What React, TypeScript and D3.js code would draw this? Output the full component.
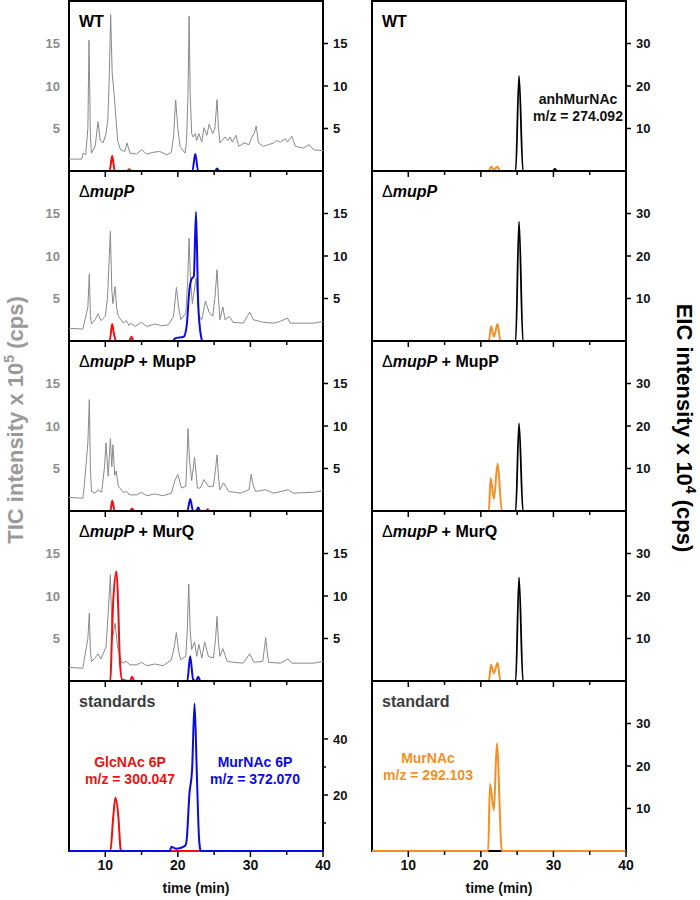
import React from "react";
import * as d3 from "d3";

type Pt = [number, number];

// time (min), intensity -- TIC traces (x 10^5 cps)
const ticWT: Pt[] = [[5,1.4],[6.75,1.4],[6.95,2.1],[7.3,1.9],[7.6,5],[7.76,15.4],[7.95,4],[8.1,2.1],[8.6,2.9],[9.0,5.8],[9.3,3.6],[9.7,3.3],[10.1,4.4],[10.35,6],[10.55,11],[10.74,18.4],[10.95,11.5],[11.2,9.2],[11.4,7],[11.7,3.6],[12.1,2.5],[12.7,2.3],[13.0,3.3],[13.4,2.1],[14.3,2.0],[15.0,2.5],[15.7,2.0],[16.6,2.2],[17.5,2.3],[18.5,1.9],[19.1,2.2],[19.4,4],[19.7,8.35],[20.0,5],[20.3,2.9],[21.0,2.1],[21.2,3.6],[21.4,9],[21.55,18.2],[21.7,9],[21.9,4.4],[22.1,4.0],[22.4,4.4],[22.6,3.6],[22.9,4.4],[23.3,3.4],[23.6,5.1],[24.0,4.2],[24.3,5.5],[24.8,4.4],[25.1,5],[25.4,8.4],[25.6,5],[25.8,3.3],[26.5,4.0],[26.9,3.6],[27.2,4.0],[27.5,3.4],[28.0,4.2],[28.4,2.9],[29.1,3.3],[29.8,3.1],[30.2,4.0],[30.5,4.4],[30.8,5.3],[31.1,3.3],[31.8,2.9],[32.5,3.1],[33.2,3.3],[33.6,3.6],[34.1,3.4],[34.8,3.8],[35.1,3.4],[35.7,4.1],[36.2,2.9],[37.3,2.7],[38.1,3.1],[38.7,2.5],[40,2.4]];
const ticMupP: Pt[] = [[5,1.5],[6.9,1.4],[7.1,2.1],[7.6,4],[7.8,7.9],[7.95,3],[8.1,2.0],[8.6,2.5],[9.0,3.2],[9.4,2.4],[10.0,2.9],[10.3,5],[10.5,9],[10.7,12.9],[10.9,6],[11.05,4.4],[11.35,6.4],[11.55,4],[11.8,2.9],[12.5,2.1],[12.9,2.4],[13.3,1.8],[13.5,2.1],[14.1,1.7],[15.0,2.2],[15.7,1.7],[16.8,2.0],[17.8,1.8],[18.7,1.9],[19.4,2.9],[19.8,6.3],[20.1,4],[20.4,2.5],[21.1,3.3],[21.35,7],[21.55,12.1],[21.75,7],[22.0,4.4],[22.5,7.4],[22.9,3],[23.3,2.5],[23.8,4.7],[24.3,3.4],[24.8,2.9],[25.1,5],[25.4,8.4],[25.6,5],[25.8,2.5],[26.2,4.0],[26.5,2.5],[27.1,2.9],[27.6,2.2],[29.0,2.1],[29.9,3.4],[30.4,2.5],[31.8,2.2],[33.2,2.1],[34.1,2.3],[35.1,2.7],[35.5,2.1],[38.7,2.1],[40,2.3]];
const ticMupPComp: Pt[] = [[5,1.6],[6.9,1.5],[7.1,2.9],[7.6,8],[7.8,13.1],[7.95,5],[8.1,2.3],[8.6,2.1],[9.0,2.5],[9.5,2.2],[9.9,5.2],[10.1,8.0],[10.4,4.1],[10.7,8.5],[10.9,5.2],[11.05,7.8],[11.3,4.2],[11.5,4.7],[11.8,2.9],[12.5,2.2],[12.9,2.3],[13.4,1.9],[14.3,1.9],[15.0,2.2],[15.7,1.8],[16.8,2.0],[18.0,1.8],[19.1,2.1],[19.6,3.6],[20.0,4.3],[20.5,2.7],[21.1,2.9],[21.25,6],[21.4,9.7],[21.6,6],[21.9,3.6],[22.3,6.3],[22.7,2.7],[23.1,2.7],[23.6,3.7],[24.2,2.9],[24.9,2.9],[25.2,5],[25.4,6.6],[25.6,4],[25.8,2.5],[26.3,3.3],[27.0,2.3],[28.6,2.1],[29.8,2.5],[30.1,4.3],[30.4,3],[30.7,2.3],[32.1,2.5],[33.2,2.1],[35.2,2.5],[35.9,2.1],[38.7,2.2],[40,2.4]];
const ticMurQ: Pt[] = [[5,1.6],[6.9,1.5],[7.1,2.5],[7.6,5],[7.8,8.0],[7.95,3.5],[8.1,2.3],[8.6,2.7],[9.0,3.2],[9.4,2.6],[10.1,4.0],[10.4,8],[10.7,12.5],[10.95,4.8],[11.35,6.8],[11.7,4.0],[12.3,2.1],[12.9,2.3],[13.4,1.9],[14.3,1.9],[15.0,2.2],[15.7,1.8],[16.8,2.0],[18.0,1.8],[19.1,2.5],[19.5,4],[19.8,5.7],[20.1,3.5],[20.4,2.5],[21.1,2.9],[21.3,6],[21.5,11.4],[21.7,6],[21.9,3.7],[22.3,4.6],[22.6,2.9],[22.9,4.3],[23.3,2.7],[23.7,4.6],[24.2,2.9],[24.9,2.7],[25.2,5],[25.4,7.6],[25.6,4.5],[25.8,2.9],[26.2,3.8],[26.8,2.3],[27.7,2.2],[29.0,2.1],[29.9,3.2],[30.5,2.2],[31.7,2.3],[31.95,4],[32.1,5.1],[32.3,3.5],[32.5,2.2],[34.1,2.1],[35.2,2.6],[35.7,2.1],[38.7,2.1],[40,2.3]];

// EIC GlcNAc 6P (red) and MurNAc 6P (blue)
const glcWT: Pt[] = [[5,0],[10.6,0],[10.95,1.8],[11.3,0],[13.0,0],[13.3,0.2],[13.6,0],[40,0]];
const murWT: Pt[] = [[5,0],[22.0,0],[22.4,2.0],[22.8,0],[25.1,0],[25.4,0.3],[25.7,0],[40,0]];
const glcMupP: Pt[] = [[5,0],[10.6,0],[10.95,2.0],[11.2,0.8],[11.5,0],[13.3,0],[13.6,0.5],[13.9,0],[40,0]];
const murMupP: Pt[] = [[5,0],[19.3,0],[19.6,0.3],[20.8,0.5],[21.2,1.7],[21.6,6.1],[21.9,7.3],[22.2,7.6],[22.5,15.2],[22.8,4.4],[23.2,0.5],[23.4,0],[40,0]];
const glcComp: Pt[] = [[5,0],[10.7,0],[10.95,1.2],[11.3,0],[13.4,0],[13.7,0.3],[14.0,0],[23.9,0],[24.1,0.2],[24.3,0],[40,0]];
const murComp: Pt[] = [[5,0],[21.3,0],[21.7,1.4],[22.1,0],[22.5,0],[22.8,0.4],[23.1,0],[40,0]];
const glcMurQ: Pt[] = [[5,0],[10.7,0],[10.9,4.8],[11.1,9.5],[11.55,12.9],[11.8,8.2],[12.0,2.5],[12.3,0.2],[13.4,0],[13.7,0.5],[14.0,0],[40,0]];
const murMurQ: Pt[] = [[5,0],[21.3,0],[21.7,2.9],[22.1,0.2],[22.5,0],[22.8,0.5],[23.1,0],[40,0]];
const glcStd: Pt[] = [[5,0],[10.7,0],[11.1,12.3],[11.4,19.0],[11.8,12.3],[12.1,0.9],[12.2,0],[40,0]];
const murStd: Pt[] = [[5,0],[18.9,0],[19.1,1.5],[19.4,1.2],[19.8,0.8],[21.0,1.8],[21.2,3.6],[21.6,20.6],[21.96,28.9],[22.3,52.7],[22.6,28.9],[22.9,5.4],[23.1,0.4],[23.2,0],[40,0]];

// EIC anhMurNAc (black) and MurNAc (orange), x 10^4 cps
const anhWT: Pt[] = [[5,0],[24.8,0],[25.26,22.4],[25.8,0],[29.9,0],[30.2,0.5],[30.5,0],[40,0]];
const mnWT: Pt[] = [[5,0],[21.1,0],[21.4,1.0],[21.8,0.3],[22.3,1.0],[22.6,0],[40,0]];
const anhMupP: Pt[] = [[5,0],[24.8,0],[25.26,28.1],[25.8,0],[40,0]];
const mnMupP: Pt[] = [[5,0],[21.1,0],[21.4,3.5],[21.8,1.0],[22.3,4.0],[22.7,0],[40,0]];
const anhComp: Pt[] = [[5,0],[24.8,0],[25.26,20.6],[25.8,0],[40,0]];
const mnComp: Pt[] = [[5,0],[21.1,0],[21.35,7.7],[21.8,2.8],[22.3,11.2],[22.9,0],[40,0]];
const anhMurQ: Pt[] = [[5,0],[24.8,0],[25.26,24.4],[25.8,0],[40,0]];
const mnMurQ: Pt[] = [[5,0],[21.1,0],[21.4,3.8],[21.8,1.8],[22.3,4.3],[22.7,0],[40,0]];
const anhStd: Pt[] = [[5,0],[40,0]];
const mnStd: Pt[] = [[5,0],[21.0,0],[21.26,15.8],[21.8,9.6],[22.2,25.3],[22.9,0],[40,0]];

const xMajor = [10, 20, 30, 40];
const xMinor = [15, 25, 35];

type Part = { t: string; it?: boolean; thin?: boolean };
const mupP = (rest: string): Part[] => [{ t: "Δ", thin: true }, { t: "mupP", it: true }, { t: rest }];
const labels: Part[][] = [[{ t: "WT" }], mupP(""), mupP(" + MupP"), mupP(" + MurQ")];

const leftPanels = [
  { tic: ticWT, red: glcWT, blue: murWT, yMax: 20, ticks: [5, 10, 15], minor: [] as number[] },
  { tic: ticMupP, red: glcMupP, blue: murMupP, yMax: 20, ticks: [5, 10, 15], minor: [] },
  { tic: ticMupPComp, red: glcComp, blue: murComp, yMax: 20, ticks: [5, 10, 15], minor: [] },
  { tic: ticMurQ, red: glcMurQ, blue: murMurQ, yMax: 20, ticks: [5, 10, 15], minor: [] },
  { tic: null, red: glcStd, blue: murStd, yMax: 60.7, ticks: [20, 40], minor: [10, 30] },
];
const rightPanels = [
  { black: anhWT, orange: mnWT },
  { black: anhMupP, orange: mnMupP },
  { black: anhComp, orange: mnComp },
  { black: anhMurQ, orange: mnMurQ },
  { black: anhStd, orange: mnStd },
];

const PH = 170;
const TOP = 1;
const FONT = "'Liberation Sans', Arial, sans-serif";
const RED = "#f01010";
const BLUE = "#0a0ae6";
const ORANGE = "#f39024";

const xL = d3.scaleLinear().domain([5, 40]).range([69, 323]);
const xR = d3.scaleLinear().domain([5, 40]).range([372, 626]);

function Label({ x, y, parts, fill }: { x: number; y: number; parts: Part[]; fill: string }) {
  return (
    <text x={x} y={y} fontFamily={FONT} fontSize={16} fontWeight="bold" fill={fill}>
      {parts.map((p, i) => (
        <tspan key={i} fontStyle={p.it ? "italic" : "normal"} fontWeight={p.thin ? "normal" : "bold"}>
          {p.t}
        </tspan>
      ))}
    </text>
  );
}

function XTicks({ x, bottom, labelled }: { x: d3.ScaleLinear<number, number>; bottom: number; labelled: boolean }) {
  return (
    <g>
      {xMajor.map((t) => (
        <line key={"M" + t} x1={x(t)} x2={x(t)} y1={bottom} y2={bottom + 6} stroke="#000" strokeWidth={1.5} />
      ))}
      {xMinor.map((t) => (
        <line key={"m" + t} x1={x(t)} x2={x(t)} y1={bottom} y2={bottom + 4} stroke="#000" strokeWidth={1.5} />
      ))}
      {labelled &&
        xMajor.map((t) => (
          <text key={"l" + t} x={x(t)} y={bottom + 19} textAnchor="middle" fontFamily={FONT} fontSize={14} fontWeight="bold" fill="#111">
            {t}
          </text>
        ))}
    </g>
  );
}

function LeftPanel({ i }: { i: number }) {
  const p = leftPanels[i];
  const top = TOP + i * PH;
  const bottom = top + PH;
  const y = d3.scaleLinear().domain([0, p.yMax]).range([bottom, top]);
  const line = d3.line<Pt>().x((d) => xL(d[0])).y((d) => y(d[1]));
  const eic = d3.line<Pt>().x((d) => xL(d[0])).y((d) => y(d[1])).curve(d3.curveMonotoneX);
  const [x0, x1] = xL.range();
  return (
    <g>
      <rect x={x0} y={top} width={x1 - x0} height={PH} fill="none" stroke="#000" strokeWidth={2} />
      {p.tic && <path d={line(p.tic) ?? ""} fill="none" stroke="#8a8a8a" strokeWidth={1} />}
      <path d={eic(p.red) ?? ""} fill="none" stroke={RED} strokeWidth={2} />
      <path d={eic(p.blue) ?? ""} fill="none" stroke={BLUE} strokeWidth={2} />
      {p.ticks.map((t) => (
        <g key={t}>
          <line x1={x1} x2={x1 + 5} y1={y(t)} y2={y(t)} stroke="#000" strokeWidth={1.5} />
          <text x={x1 + 10} y={y(t)} dy="0.36em" fontFamily={FONT} fontSize={13} fontWeight="bold" fill="#111">
            {t}
          </text>
          {p.tic && (
            <text x={60} y={y(t)} dy="0.36em" textAnchor="end" fontFamily={FONT} fontSize={13} fontWeight="bold" fill="#8c8c8c">
              {t}
            </text>
          )}
        </g>
      ))}
      {p.minor.map((t) => (
        <line key={"mn" + t} x1={x1} x2={x1 + 3} y1={y(t)} y2={y(t)} stroke="#000" strokeWidth={1.5} />
      ))}
      <XTicks x={xL} bottom={bottom} labelled={i === 4} />
      {i < 4 ? (
        <Label x={x0 + 10} y={top + 26} parts={labels[i]} fill="#000" />
      ) : (
        <Label x={x0 + 10} y={top + 26} parts={[{ t: "standards" }]} fill="#3c3c3c" />
      )}
    </g>
  );
}

function RightPanel({ i }: { i: number }) {
  const p = rightPanels[i];
  const top = TOP + i * PH;
  const bottom = top + PH;
  const y = d3.scaleLinear().domain([0, 40]).range([bottom, top]);
  const eic = d3.line<Pt>().x((d) => xR(d[0])).y((d) => y(d[1])).curve(d3.curveMonotoneX);
  const [x0, x1] = xR.range();
  return (
    <g>
      <rect x={x0} y={top} width={x1 - x0} height={PH} fill="none" stroke="#000" strokeWidth={2} />
      <path d={eic(p.black) ?? ""} fill="none" stroke="#000" strokeWidth={1.8} />
      <path d={eic(p.orange) ?? ""} fill="none" stroke={ORANGE} strokeWidth={2} />
      {[10, 20, 30].map((t) => (
        <g key={t}>
          <line x1={x1} x2={x1 + 5} y1={y(t)} y2={y(t)} stroke="#000" strokeWidth={1.5} />
          <text x={x1 + 10} y={y(t)} dy="0.36em" fontFamily={FONT} fontSize={13} fontWeight="bold" fill="#111">
            {t}
          </text>
        </g>
      ))}
      <XTicks x={xR} bottom={bottom} labelled={i === 4} />
      {i < 4 ? (
        <Label x={x0 + 10} y={top + 26} parts={labels[i]} fill="#000" />
      ) : (
        <Label x={x0 + 10} y={top + 26} parts={[{ t: "standard" }]} fill="#3c3c3c" />
      )}
    </g>
  );
}

function Note({ x, y, lines, fill }: { x: number; y: number; lines: string[]; fill: string }) {
  return (
    <text x={x} y={y} textAnchor="middle" fontFamily={FONT} fontSize={14} fontWeight="bold" fill={fill}>
      {lines.map((l, k) => (
        <tspan key={k} x={x} dy={k === 0 ? 0 : 16.5}>
          {l}
        </tspan>
      ))}
    </text>
  );
}

export default function App() {
  const bottom = TOP + 5 * PH;
  return (
    <svg width={700} height={900} style={{ position: "absolute", left: 0, top: 0, background: "#fff" }}>
      <rect width={700} height={900} fill="#fff" />
      {leftPanels.map((_, i) => (
        <LeftPanel key={"L" + i} i={i} />
      ))}
      {rightPanels.map((_, i) => (
        <RightPanel key={"R" + i} i={i} />
      ))}
      <Note x={578} y={104} lines={["anhMurNAc", "m/z = 274.092"]} fill="#111" />
      <Note x={130} y={767} lines={["GlcNAc 6P", "m/z = 300.047"]} fill={RED} />
      <Note x={255} y={767} lines={["MurNAc 6P", "m/z = 372.070"]} fill={BLUE} />
      <Note x={428} y={763} lines={["MurNAc", "m/z = 292.103"]} fill={ORANGE} />
      <text x={(xL(5) + xL(40)) / 2} y={bottom + 42} textAnchor="middle" fontFamily={FONT} fontSize={14} fontWeight="bold" fill="#111">
        time (min)
      </text>
      <text x={(xR(5) + xR(40)) / 2} y={bottom + 42} textAnchor="middle" fontFamily={FONT} fontSize={14} fontWeight="bold" fill="#111">
        time (min)
      </text>
      <text transform="translate(23,420) rotate(-90)" textAnchor="middle" fontFamily={FONT} fontSize={22} fontWeight="bold" fill="#9a9a9a">
        TIC intensity x 10<tspan dy={-9} fontSize={14}>5</tspan>
        <tspan dy={9}> (cps)</tspan>
      </text>
      <text transform="translate(677,428) rotate(90)" textAnchor="middle" fontFamily={FONT} fontSize={22} fontWeight="bold" fill="#000">
        EIC intensity x 10<tspan dy={-9} fontSize={14}>4</tspan>
        <tspan dy={9}> (cps)</tspan>
      </text>
    </svg>
  );
}
